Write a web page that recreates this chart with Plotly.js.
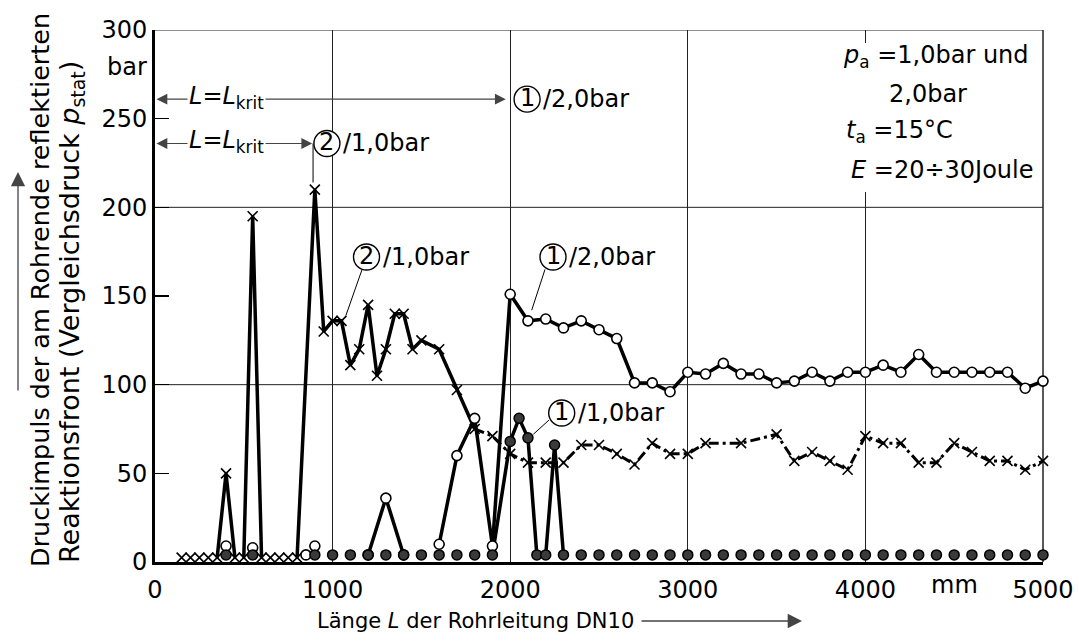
<!DOCTYPE html>
<html>
<head>
<meta charset="utf-8">
<script src="https://cdn.plot.ly/plotly-3.0.1.min.js"></script>
<style>html,body{margin:0;padding:0;background:#fff;}#chart{width:1079px;height:641px;}</style>
</head>
<body>
<div id="chart"></div>
<script>
// ---- data (length L in mm, pressure in bar) ----
// (2) / 1,0 bar  (crosses)
const crossL = [150,200,250,300,350,400,450,500,550,600,650,700,750,800,
  900,950,1000,1050,1100,1150,1200,1250,1300,1350,1400,1450,1500,
  1600,1700,1800,1900,
  2000,2100,2200,2300,2400,2500,2600,2700,2800,2900,3000,3100,
  3300,3500,
  3600,3700,3800,3900,4000,4100,4200,4300,4400,4500,4600,4700,4800,4900,5000];
const crossP = [2.5,2.5,2.5,2.5,2.5,50,2.5,2.5,195,2.5,2.5,2.5,2.5,2.5,
  210,130,136,136,111,120,145,105,120,140,140,120,125,
  120,97,75,71,
  61,56,56,56,66,66,61,55,67,61,61,67,
  67,72,
  57,62,57,52,71,67,67,56,56,67,62,57,57,52,57];

// (1) / 2,0 bar  (open circles)
const openL = [400,550,850,900,1200,1300,1400,1600,1700,1800,1900,
  2000,2100,2200,2300,2400,2500,2600,2700,2800,2900,
  3000,3100,3200,3300,3400,3500,3600,3700,3800,3900,
  4000,4100,4200,4300,4400,4500,4600,4700,4800,4900,5000];
const openP = [9,8,4,9,4,36,4,10,60,81,9,
  151,136,137,132,136,131,126,101,101,96,
  107,106,112,106,106,101,102,107,102,107,
  107,111,107,117,107,107,107,107,107,98,102];

// (1) / 1,0 bar  (filled circles)
const fillL = [400,550,900,1000,1100,1200,1300,1400,1500,1600,1700,1800,1900,
  2000,2050,2100,2150,2200,2250,2300,
  2400,2500,2600,2700,2800,2900,3000,3100,3200,3300,3400,3500,3600,3700,
  3800,3900,4000,4100,4200,4300,4400,4500,4600,4700,4800,4900,5000];
const fillP = [4,4,4,4,4,4,4,4,4,4,4,4,4,
  68,81,70,4,4,66,4,
  4,4,4,4,4,4,4,4,4,4,4,4,4,4,
  4,4,4,4,4,4,4,4,4,4,4,4,4];

const xTicks = [0,1000,2000,3000,4000,5000];
const yTicks = [0,50,100,150,200,250,300];

// ---- helpers ----
function segments(xs, ys, keep) {
  const X = [], Y = [];
  let last = -1;
  for (let i = 0; i < xs.length - 1; i++) {
    if (keep(xs[i], ys[i], xs[i+1], ys[i+1])) {
      if (last !== i) {
        if (X.length) { X.push(null); Y.push(null); }
        X.push(xs[i]); Y.push(ys[i]);
      }
      X.push(xs[i+1]); Y.push(ys[i+1]);
      last = i + 1;
    }
  }
  return {X, Y};
}
const visible = (x1,y1,x2,y2) => Math.max(y1,y2) > 12;

const crossSolid = segments(crossL, crossP, (x1,y1,x2,y2) => x1 < 1800 && visible(x1,y1,x2,y2));
const crossDash = segments(crossL, crossP, (x1) => x1 >= 1800);
const openLine = segments(openL, openP, visible);
const fillLine = segments(fillL, fillP, visible);

const LW = 3.5;
const traces = [
  {x: crossSolid.X, y: crossSolid.Y, mode: 'lines', line: {color: '#000', width: LW}, hoverinfo: 'skip', cliponaxis: false},
  {x: crossDash.X, y: crossDash.Y, mode: 'lines', line: {color: '#000', width: 3, dash: '10px,4px,3px,4px'}, hoverinfo: 'skip', cliponaxis: false},
  {x: openLine.X, y: openLine.Y, mode: 'lines', line: {color: '#000', width: LW}, hoverinfo: 'skip', cliponaxis: false},
  {x: fillLine.X, y: fillLine.Y, mode: 'lines', line: {color: '#000', width: LW}, hoverinfo: 'skip', cliponaxis: false},
  {x: crossL, y: crossP, mode: 'markers', name: '② / 1,0 bar',
   marker: {symbol: 'x-thin-open', size: 10, color: '#000', line: {color: '#000', width: 1.6}}, cliponaxis: false},
  {x: openL, y: openP, mode: 'markers', name: '① / 2,0 bar',
   marker: {symbol: 'circle', size: 10, color: '#fff', line: {color: '#000', width: 1.6}}, cliponaxis: false},
  {x: fillL, y: fillP, mode: 'markers', name: '① / 1,0 bar',
   marker: {symbol: 'circle', size: 10, color: '#3a3a3a', line: {color: '#000', width: 1.5}}, cliponaxis: false}
];

const FONT = '"DejaVu Sans", "Liberation Sans", sans-serif';
const FS = 24;
const LK = '<i>L</i>=<i>L</i><sub>krit</sub>';

function px2x(px) { return (px - 155) / 888; }
function px2y(py) { return (562 - py) / 532; }

const annotations = [];
const shapes = [
  {type: 'line', xref: 'paper', yref: 'y', x0: 0, x1: 1, y0: 100, y1: 100, line: {color: '#222', width: 1}, layer: 'below'},
  {type: 'line', xref: 'paper', yref: 'y', x0: 0, x1: 1, y0: 200, y1: 200, line: {color: '#222', width: 1}, layer: 'below'},
  {type: 'line', xref: 'paper', yref: 'y', x0: 0, x1: 1, y0: 300, y1: 300, line: {color: '#222', width: 1}, layer: 'below'},
  {type: 'line', xref: 'paper', yref: 'paper', x0: 1, x1: 1, y0: 0, y1: 1, line: {color: '#222', width: 1.5}, layer: 'below'},
  {type: 'rect', xref: 'paper', yref: 'paper', x0: px2x(835), x1: px2x(1036), y0: px2y(192), y1: px2y(43),
   fillcolor: '#fff', line: {width: 0}, layer: 'above'},
  // leader lines
  {type: 'line', xref: 'x', yref: 'y', x0: 890, x1: 890, y0: 236, y1: 214, line: {color: '#000', width: 1}},
  {type: 'line', xref: 'x', yref: 'y', x0: 1166, x1: 1075, y0: 165, y1: 139, line: {color: '#000', width: 1}},
  {type: 'line', xref: 'x', yref: 'y', x0: 2196, x1: 2121, y0: 165, y1: 142, line: {color: '#000', width: 1}},
  {type: 'line', xref: 'x', yref: 'y', x0: 2218, x1: 2130, y0: 80, y1: 72, line: {color: '#000', width: 1}}
];

// circled number label: circle drawn as pixel-sized shape, digit centred, rest of text after it
function circled(xd, yd, digit, rest) {
  shapes.push({type: 'circle', xref: 'x', yref: 'y', xsizemode: 'pixel', ysizemode: 'pixel',
    xanchor: xd, yanchor: yd, x0: -13, x1: 13, y0: -13, y1: 13,
    line: {color: '#000', width: 1.4}, fillcolor: '#fff', layer: 'above'});
  annotations.push({xref: 'x', yref: 'y', x: xd, y: yd, text: digit, showarrow: false,
    xanchor: 'center', yanchor: 'middle', yshift: 1});
  annotations.push({xref: 'x', yref: 'y', x: xd, y: yd, xshift: 14, text: rest, showarrow: false,
    xanchor: 'left', yanchor: 'middle'});
}

annotations.push(
  // row 1 double arrow L = L_krit for 2,0 bar
  {xref: 'x', yref: 'y', axref: 'x', ayref: 'y', x: 1975, y: 261, ax: 0, ay: 261, text: '',
   showarrow: true, arrowside: 'end+start', arrowhead: 2, arrowsize: 1.8, arrowwidth: 1.2, standoff: 0, startstandoff: 0},
  {xref: 'x', yref: 'y', x: 400, y: 262, text: LK, showarrow: false, bgcolor: '#fff', borderpad: 1, xanchor: 'center', yanchor: 'middle'},
  // row 2 double arrow L = L_krit for 1,0 bar
  {xref: 'x', yref: 'y', axref: 'x', ayref: 'y', x: 885, y: 236, ax: 0, ay: 236, text: '',
   showarrow: true, arrowside: 'end+start', arrowhead: 2, arrowsize: 1.8, arrowwidth: 1.2, standoff: 0, startstandoff: 0},
  {xref: 'x', yref: 'y', x: 400, y: 237, text: LK, showarrow: false, bgcolor: '#fff', borderpad: 1, xanchor: 'center', yanchor: 'middle'}
);
circled(2095, 261, '1', '/2,0bar');
circled(968, 236, '2', '/1,0bar');
circled(1191, 172, '2', '/1,0bar');
circled(2241, 172, '1', '/2,0bar');
circled(2290, 84, '1', '/1,0bar');

annotations.push(
  // condition block
  {xref: 'x', yref: 'y', x: 3860, y: 285, text: '<i>p</i><sub>a</sub> =1,0bar und', showarrow: false, xanchor: 'left', yanchor: 'middle'},
  {xref: 'x', yref: 'y', x: 4120, y: 264, text: '2,0bar', showarrow: false, xanchor: 'left', yanchor: 'middle'},
  {xref: 'x', yref: 'y', x: 3880, y: 243, text: '<i>t</i><sub>a</sub> =15°C', showarrow: false, xanchor: 'left', yanchor: 'middle'},
  {xref: 'x', yref: 'y', x: 3905, y: 221, text: '<i>E</i> =20÷30Joule', showarrow: false, xanchor: 'left', yanchor: 'middle'},
  // unit labels
  {xref: 'paper', yref: 'y', x: px2x(149), y: 279, text: 'bar', showarrow: false, xanchor: 'right', yanchor: 'middle'},
  {xref: 'x', yref: 'paper', x: 4500, y: px2y(585), text: 'mm', showarrow: false, xanchor: 'center', yanchor: 'middle'},
  // axis titles
  {xref: 'paper', yref: 'paper', x: px2x(40), y: px2y(290), text: 'Druckimpuls der am Rohrende reflektierten',
   textangle: -90, showarrow: false, xanchor: 'center', yanchor: 'middle', font: {size: 25.5}},
  {xref: 'paper', yref: 'paper', x: px2x(71), y: px2y(565), text: 'Reaktionsfront (Vergleichsdruck <i>p</i><sub>stat</sub>)',
   textangle: -90, showarrow: false, xanchor: 'center', yanchor: 'bottom', font: {size: 27}},
  {xref: 'paper', yref: 'paper', x: px2x(18), y: px2y(172), ax: 0, ay: 220, text: '', showarrow: true,
   arrowhead: 2, arrowsize: 2.2, arrowwidth: 1.3, standoff: 0},
  {xref: 'paper', yref: 'paper', x: px2x(475), y: px2y(621), text: 'Länge <i>L</i> der Rohrleitung DN10', showarrow: false,
   xanchor: 'center', yanchor: 'middle', font: {size: 21}},
  {xref: 'paper', yref: 'paper', x: px2x(802), y: px2y(621), ax: -162, ay: 0, text: '', showarrow: true,
   arrowhead: 2, arrowsize: 2.2, arrowwidth: 1.3, standoff: 0}
);

const layout = {
  width: 1079, height: 641,
  margin: {l: 155, r: 36, t: 30, b: 79},
  paper_bgcolor: '#fff', plot_bgcolor: '#fff',
  showlegend: false,
  font: {family: FONT, size: FS, color: '#000'},
  xaxis: {range: [0, 5000], tickvals: xTicks, ticktext: xTicks.map(String), showgrid: true,
    gridcolor: '#222', gridwidth: 1, showline: true, linecolor: '#000', linewidth: 3,
    ticks: '', zeroline: false, ticklabelstandoff: 4, title: {text: ''}},
  yaxis: {range: [0, 300], tickvals: yTicks, ticktext: yTicks.map(String), showgrid: false,
    showline: true, linecolor: '#000', linewidth: 3, ticks: 'inside', ticklen: 14, tickwidth: 1.5,
    tickcolor: '#000', zeroline: false, title: {text: ''}},
  annotations: annotations,
  shapes: shapes
};

Plotly.newPlot('chart', traces, layout, {staticPlot: true, displayModeBar: false});
</script>
</body>
</html>
